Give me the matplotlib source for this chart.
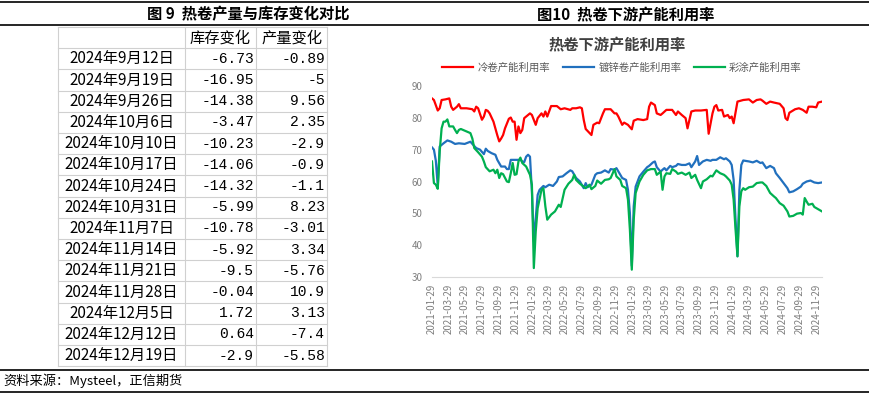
import datetime as dt

import matplotlib
matplotlib.use('Agg')
import matplotlib.pyplot as plt
from matplotlib.lines import Line2D

plt.rcParams['font.family'] = ['Noto Sans CJK SC', 'DejaVu Sans']

# ---- table data (figure 9) ----
table_dates = ['2024年9月12日', '2024年9月19日', '2024年9月26日', '2024年10月6日',
               '2024年10月10日', '2024年10月17日', '2024年10月24日', '2024年10月31日',
               '2024年11月7日', '2024年11月14日', '2024年11月21日', '2024年11月28日',
               '2024年12月5日', '2024年12月12日', '2024年12月19日']
stock_change = [-6.73, -16.95, -14.38, -3.47, -10.23, -14.06, -14.32, -5.99,
                -10.78, -5.92, -9.5, -0.04, 1.72, 0.64, -2.9]
output_change = [-0.89, -5, 9.56, 2.35, -2.9, -0.9, -1.1, 8.23,
                 -3.01, 3.34, -5.76, 10.9, 3.13, -7.4, -5.58]
table_header = ['', '库存变化', '产量变化']

# ---- line chart data (figure 10), weeks counted from 2021-01-29 ----
start_date = dt.date(2021, 1, 29)

cold_wk = [0, 1, 3, 4, 5, 7, 9, 10, 11, 13, 14, 15, 18, 21, 22, 23, 24, 26, 27, 28,
           29, 30, 32, 34, 35, 36, 37, 38, 40, 41, 42, 43, 44, 45, 46, 47, 48, 50, 51, 52,
           54, 55, 57, 58, 59, 60, 62, 65, 67, 69, 72, 73, 75, 77, 78, 79, 80, 82, 83, 84,
           86, 87, 89, 90, 93, 95, 96, 97, 99, 100, 102, 104, 105, 107, 110, 112, 113, 114, 116, 117,
           119, 120, 122, 125, 127, 128, 130, 132, 133, 135, 137, 140, 143, 144, 146, 147, 148, 149, 151, 152,
           154, 155, 156, 157, 159, 162, 165, 167, 169, 171, 172, 174, 176, 178, 181, 183, 184, 185, 186, 189,
           191, 193, 195, 196, 198, 200, 201, 203]
cold_val = [86.1, 85.6, 82.3, 83.0, 85.6, 85.8, 86.1, 83.5, 82.5, 83.5, 84.3, 83.0, 83.0, 82.7, 82.0, 83.5, 83.0, 79.4, 80.4, 82.5,
            82.2, 81.4, 78.8, 74.5, 72.6, 73.5, 74.6, 76.7, 79.7, 80.1, 78.8, 78.8, 73.1, 77.3, 75.2, 76.2, 79.9, 80.9, 81.4, 80.9,
            77.8, 79.9, 81.4, 80.4, 82.0, 80.4, 83.7, 83.7, 82.7, 83.0, 82.5, 83.0, 83.0, 83.3, 83.0, 79.3, 76.5, 75.2, 74.6, 77.8,
            78.5, 78.3, 81.4, 82.7, 82.7, 81.4, 81.4, 80.4, 77.8, 78.5, 77.8, 76.4, 79.1, 79.6, 79.3, 79.6, 83.5, 84.8, 84.0, 81.4,
            80.9, 81.4, 82.5, 82.5, 80.9, 82.0, 80.9, 79.9, 76.7, 82.0, 82.3, 82.3, 82.5, 75.0, 81.4, 83.5, 84.0, 82.3, 82.5, 80.4,
            80.9, 79.9, 80.4, 78.3, 85.1, 85.6, 85.8, 84.8, 85.6, 85.8, 85.4, 84.4, 85.1, 84.8, 84.4, 83.0, 79.9, 79.3, 81.6, 82.7,
            83.0, 82.5, 81.6, 83.5, 83.5, 83.3, 84.8, 85.1]

galv_wk = [0, 1, 2, 3, 4, 6, 8, 10, 12, 14, 17, 20, 21, 23, 25, 27, 28, 29, 31, 33,
           34, 36, 38, 39, 40, 41, 43, 46, 47, 48, 49, 50, 51, 52, 53, 54, 55, 56, 58, 59,
           61, 63, 65, 66, 68, 70, 72, 73, 75, 77, 79, 80, 81, 83, 85, 86, 88, 90, 92, 93,
           95, 96, 98, 99, 101, 102, 103, 104, 105, 106, 108, 110, 112, 113, 115, 116, 117, 119, 120, 121,
           122, 124, 125, 127, 128, 130, 132, 134, 135, 137, 138, 139, 141, 143, 145, 146, 148, 150, 152, 153,
           155, 156, 157, 158, 159, 160, 161, 162, 165, 167, 169, 171, 172, 174, 176, 178, 179, 181, 183, 185,
           186, 188, 190, 192, 193, 195, 197, 199, 201, 203]
galv_val = [70.7, 70.0, 66.5, 58.5, 71.0, 72.0, 72.9, 72.5, 71.8, 72.0, 71.8, 72.5, 71.8, 70.5, 70.0, 68.6, 70.3, 69.6, 68.9, 68.4,
            66.8, 64.7, 64.7, 63.9, 63.9, 66.8, 66.8, 66.8, 66.3, 66.1, 67.8, 68.4, 67.8, 56.9, 41.2, 48.5, 55.8, 57.4, 58.6, 58.2,
            59.0, 58.6, 60.0, 61.4, 61.6, 62.6, 63.5, 63.2, 61.1, 60.0, 57.9, 59.5, 58.2, 59.0, 62.1, 62.6, 62.8, 63.5, 62.8, 63.9,
            63.7, 64.2, 62.1, 61.1, 60.5, 57.4, 50.1, 33.5, 52.2, 58.4, 61.6, 63.1, 64.5, 64.9, 66.0, 66.3, 64.5, 63.1, 63.7, 64.2,
            63.5, 64.9, 64.5, 64.9, 65.5, 65.2, 65.2, 65.7, 64.5, 66.3, 68.0, 65.2, 66.3, 66.8, 66.5, 66.8, 66.8, 67.6, 67.0, 67.3,
            66.3, 65.2, 60.5, 48.0, 36.5, 57.4, 65.2, 66.6, 66.3, 66.0, 66.5, 65.8, 66.0, 64.2, 64.9, 64.2, 62.6, 61.1, 59.5, 57.9,
            56.6, 56.9, 57.6, 58.4, 59.3, 60.0, 60.3, 59.7, 59.5, 59.7]

coat_wk = [0, 1, 2, 3, 4, 5, 6, 7, 8, 9, 11, 12, 13, 14, 15, 18, 20, 21, 22, 24,
           26, 27, 28, 30, 32, 33, 34, 35, 36, 37, 39, 40, 41, 42, 43, 44, 45, 46, 47, 49,
           51, 52, 53, 54, 55, 56, 57, 58, 59, 60, 62, 64, 66, 67, 69, 71, 73, 74, 75, 77,
           79, 80, 82, 83, 85, 86, 88, 90, 92, 93, 95, 96, 98, 99, 101, 102, 103, 104, 105, 106,
           108, 110, 112, 114, 116, 117, 119, 120, 121, 122, 124, 125, 127, 128, 130, 132, 134, 135, 137, 138,
           140, 141, 143, 145, 146, 148, 150, 152, 153, 155, 156, 157, 158, 159, 160, 161, 162, 163, 165, 167,
           169, 171, 172, 174, 176, 178, 179, 181, 183, 185, 186, 188, 190, 192, 193, 194, 195, 196, 198, 199,
           201, 203]
coat_val = [66.3, 59.5, 59.0, 57.7, 69.4, 76.7, 78.8, 78.8, 79.5, 77.3, 77.3, 76.2, 75.2, 76.2, 76.5, 75.7, 75.2, 73.5, 70.5, 69.2,
            67.8, 66.3, 64.5, 63.2, 63.7, 62.6, 63.7, 61.1, 62.6, 62.3, 60.0, 59.8, 62.6, 65.8, 62.1, 62.3, 66.3, 67.5, 65.8, 64.7,
            62.1, 59.0, 32.8, 44.3, 51.6, 54.5, 57.4, 57.9, 52.2, 48.0, 49.6, 50.6, 52.7, 52.0, 57.4, 59.3, 60.5, 62.1, 60.5, 59.3,
            58.4, 57.9, 59.0, 57.6, 58.6, 60.3, 59.3, 60.5, 60.7, 61.1, 63.9, 61.6, 60.5, 58.6, 57.9, 54.3, 44.9, 32.3, 48.0, 56.4,
            60.0, 62.1, 63.5, 63.9, 63.9, 62.1, 63.1, 57.4, 61.6, 62.6, 62.4, 63.9, 63.1, 62.4, 62.8, 62.1, 62.8, 61.1, 62.1, 60.5,
            57.9, 60.0, 60.7, 61.8, 61.6, 63.5, 62.6, 62.1, 61.6, 60.3, 59.0, 54.3, 44.9, 36.5, 52.2, 56.9, 57.9, 57.4, 58.2, 58.4,
            59.5, 59.7, 59.7, 58.6, 56.4, 55.3, 54.8, 53.2, 52.4, 50.6, 49.0, 49.2, 49.9, 50.1, 49.6, 54.8, 53.7, 52.7, 53.0, 52.0,
            51.3, 50.6]

series_names = ['冷卷产能利用率', '镀锌卷产能利用率', '彩涂产能利用率']
series_colors = ['#FF0000', '#2170BE', '#00B050']

x_tick_labels = ['2021-01-29', '2021-03-29', '2021-05-29', '2021-07-29', '2021-09-29', '2021-11-29',
                 '2022-01-29', '2022-03-29', '2022-05-29', '2022-07-29', '2022-09-29', '2022-11-29',
                 '2023-01-29', '2023-03-29', '2023-05-29', '2023-07-29', '2023-09-29', '2023-11-29',
                 '2024-01-29', '2024-03-29', '2024-05-29', '2024-07-29', '2024-09-29', '2024-11-29']
y_ticks = [30, 40, 50, 60, 70, 80, 90]

W, H = 869, 397
fig = plt.figure(figsize=(W / 100, H / 100), dpi=100)


def fx(x):
  return x / W


def fy(y):
  return 1 - y / H


def hline(y, x0=0, x1=W, color='black', lw=1.2):
  fig.add_artist(Line2D([fx(x0), fx(x1)], [fy(y), fy(y)], transform=fig.transFigure,
                        color=color, lw=lw))


def vline(x, y0, y1, color, lw=0.8):
  fig.add_artist(Line2D([fx(x), fx(x)], [fy(y0), fy(y1)], transform=fig.transFigure,
                        color=color, lw=lw))


# frame lines
hline(2)
hline(25)
hline(370)
hline(392)

fig.text(fx(248), fy(14), '图 9  热卷产量与库存变化对比', ha='center', va='center',
         fontsize=11, fontweight='bold')
fig.text(fx(626), fy(15), '图10  热卷下游产能利用率', ha='center', va='center',
         fontsize=11, fontweight='bold')
fig.text(fx(3), fy(381), '资料来源：Mysteel，正信期货', ha='left', va='center', fontsize=9.5)

# ---- table ----
col_edges = [58, 185, 256, 327]
top, row_h = 27, 21.2
n_rows = len(table_dates) + 1
grid_c = '#D0D0D0'
for k in range(n_rows + 1):
  hline(top + k * row_h, col_edges[0], col_edges[-1], color=grid_c, lw=0.8)
for x in col_edges:
  vline(x, top, top + n_rows * row_h, grid_c)

for j, h in enumerate(table_header):
  fig.text(fx((col_edges[j] + col_edges[j + 1]) / 2), fy(top + row_h / 2), h,
           ha='center', va='center', fontsize=11)
num_font = dict(family='Liberation Mono', fontsize=10.5, ha='right', va='center')
for k, (d, s, o) in enumerate(zip(table_dates, stock_change, output_change), start=1):
  yc = fy(top + (k + 0.5) * row_h)
  fig.text(fx(121.5), yc, d, ha='center', va='center', fontsize=11)
  fig.text(fx(254), yc, format(s, 'g'), **num_font)
  fig.text(fx(325), yc, format(o, 'g'), **num_font)

# ---- line chart ----
ax = fig.add_axes([fx(432), fy(277), fx(822) - fx(432), fy(86) - fy(277)])
for wk, val, name, c in zip([cold_wk, galv_wk, coat_wk], [cold_val, galv_val, coat_val],
                            series_names, series_colors):
  dates = [start_date + dt.timedelta(weeks=w) for w in wk]
  ax.plot(dates, val, color=c, lw=1.6, label=name)

ax.set_ylim(30, 90)
ax.set_yticks(y_ticks)
ax.set_xlim(start_date, start_date + dt.timedelta(weeks=203))
ax.set_xticks([dt.date.fromisoformat(s) for s in x_tick_labels])
ax.set_xticklabels(x_tick_labels, rotation=90)
ax.tick_params(axis='both', length=0, labelsize=7, labelcolor='#7F7F7F')
ax.tick_params(axis='y', pad=7)
ax.tick_params(axis='x', pad=5)
for s in ['top', 'right', 'left']:
  ax.spines[s].set_visible(False)
ax.spines['bottom'].set_color('#D9D9D9')
ax.patch.set_alpha(0)

fig.text(fx(617), fy(45.5), '热卷下游产能利用率', ha='center', va='center',
         fontsize=11, fontweight='bold', color='#404040')
fig.legend(loc='center', bbox_to_anchor=(fx(622), fy(68)), ncol=3, frameon=False,
           fontsize=7.5, labelcolor='#595959', handlelength=3.0, handletextpad=0.4,
           columnspacing=1.2)

plt.savefig('out.png', dpi=100)
